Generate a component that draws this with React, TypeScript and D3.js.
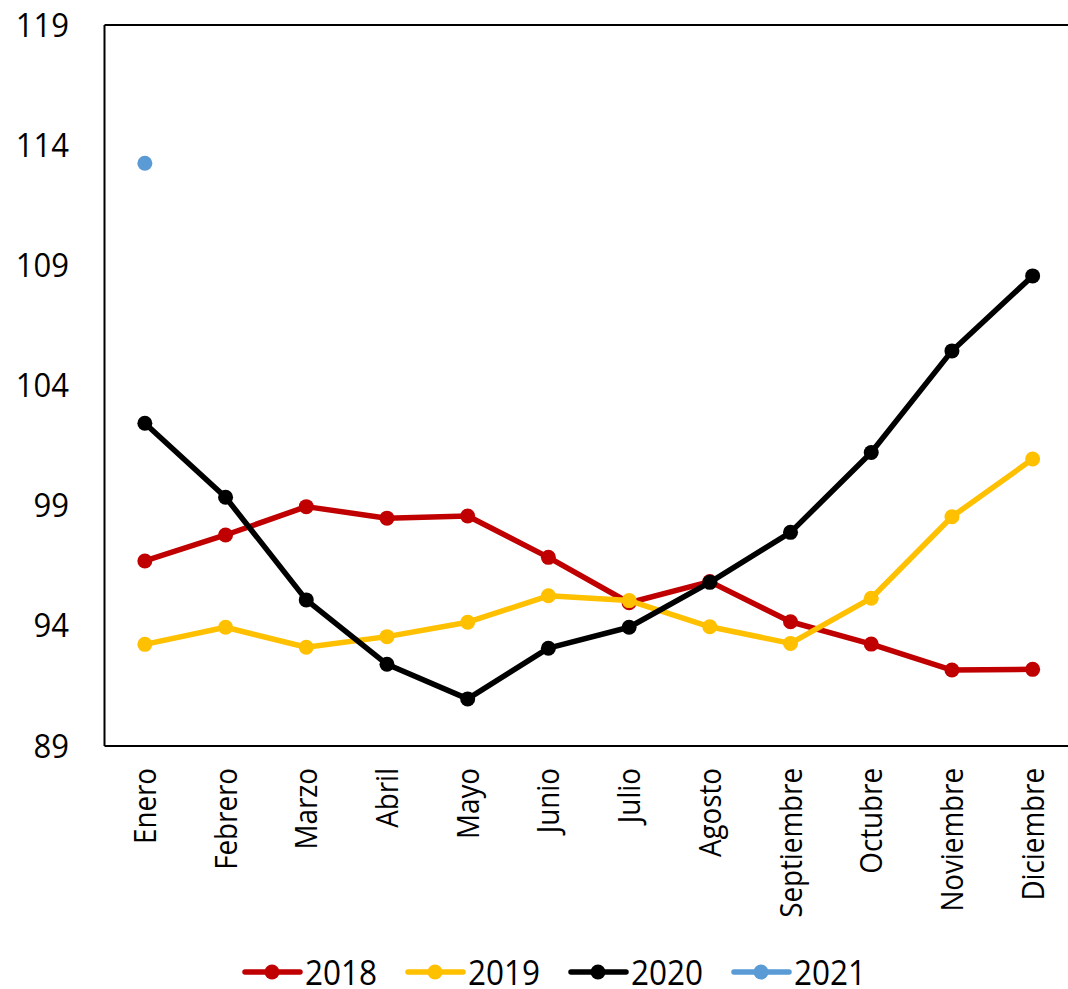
import React from "react";
import * as d3 from "d3";

const months = ["Enero","Febrero","Marzo","Abril","Mayo","Junio","Julio","Agosto","Septiembre","Octubre","Noviembre","Diciembre"];
const yTicks = [89, 94, 99, 104, 109, 114, 119];
const s2018 = [96.70, 97.78, 98.96, 98.48, 98.57, 96.85, 94.96, 95.84, 94.17, 93.24, 92.16, 92.19];
const s2019 = [93.23, 93.94, 93.11, 93.55, 94.15, 95.25, 95.05, 93.96, 93.27, 95.15, 98.54, 100.94];
const s2020 = [102.43, 99.35, 95.08, 92.40, 90.96, 93.07, 93.94, 95.81, 97.89, 101.21, 105.44, 108.56];
const s2021 = [113.25];
const seriesNames = ["2018", "2019", "2020", "2021"];
const seriesColors = ["#C00000", "#FFC000", "#000000", "#5B9BD5"];

const W = 1068, H = 989;
const left = 104.5, right = 1073, top = 25, bottom = 746;
const font = "'Open Sans', 'Noto Sans', sans-serif";

export default function App() {
  const x = d3.scaleBand<string>().domain(months).range([left, right]);
  const y = d3.scaleLinear().domain([89, 119]).range([bottom, top]);
  const cx = (m: string) => (x(m) as number) + x.bandwidth() / 2;
  const all = [s2018, s2019, s2020, s2021];
  const line = d3.line<number>().x((_, i) => cx(months[i])).y(v => y(v));
  const legendX = [245, 408, 571, 734];

  return (
    <svg width={W} height={H} style={{ position: "absolute", left: 0, top: 0, background: "#fff" }}>
      <rect width={W} height={H} fill="#fff" />
      <line x1={left} x2={W} y1={top} y2={top} stroke="#000" strokeWidth={2} />
      <line x1={left} x2={left} y1={top} y2={bottom} stroke="#000" strokeWidth={2} />
      <line x1={left} x2={W} y1={bottom} y2={bottom} stroke="#000" strokeWidth={2} />
      {yTicks.map(t => (
        <text key={t} transform={`translate(69,${y(t)}) scale(0.94,1)`} dy="0.35em" textAnchor="end" fontFamily={font} fontSize={33} fill="#000">{t}</text>
      ))}
      {months.map(m => (
        <text key={m} transform={`translate(${cx(m)},768) rotate(-90) scale(0.91,1)`} dy="0.36em" textAnchor="end" fontFamily={font} fontSize={30.5} fill="#000">{m}</text>
      ))}
      {all.map((s, k) => (
        <g key={k}>
          {s.length > 1 && <path d={line(s) || ""} fill="none" stroke={seriesColors[k]} strokeWidth={5.5} strokeLinejoin="round" />}
          {s.map((v, i) => (
            <circle key={i} cx={cx(months[i])} cy={y(v)} r={7.5} fill={seriesColors[k]} />
          ))}
        </g>
      ))}
      {seriesNames.map((n, k) => (
        <g key={n}>
          <line x1={legendX[k]} x2={legendX[k] + 55} y1={972} y2={972} stroke={seriesColors[k]} strokeWidth={5.5} strokeLinecap="round" />
          <circle cx={legendX[k] + 27} cy={972} r={7.5} fill={seriesColors[k]} />
          <text transform={`translate(${legendX[k] + 60},985) scale(0.9,1)`} fontFamily={font} fontSize={35} fill="#000">{n}</text>
        </g>
      ))}
    </svg>
  );
}
